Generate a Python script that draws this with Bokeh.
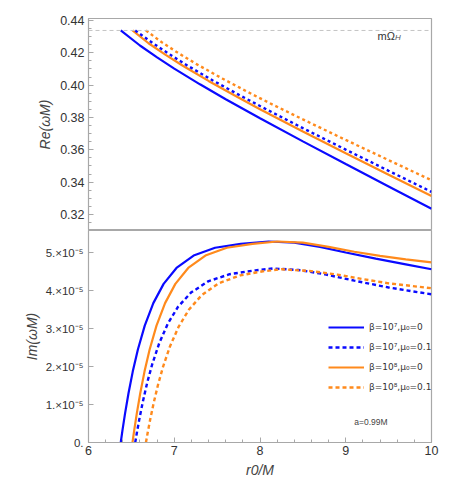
import numpy as np
from bokeh.plotting import figure
from bokeh.layouts import column
from bokeh.models import (Range1d, FixedTicker, Span, Label, Legend, LegendItem,
                          CustomJSTickFormatter, PrintfTickFormatter)
from bokeh.embed import file_html
from bokeh.resources import INLINE

# ---------------- data ----------------
m_omega_h = 0.4338  # m * Omega_H for a = 0.99M

# Re(omega M) vs r0/M
re_r_b7_0 = [6.376, 6.6, 6.8, 7.0, 7.3, 7.6, 8.0, 8.5, 9.0, 9.5, 10.0]
re_b7_0 = [0.4338, 0.4245, 0.4172, 0.4102, 0.4005, 0.3913, 0.3795, 0.3652, 0.3512, 0.3373, 0.3235]
re_r_b8_0 = [6.513, 6.7, 6.9, 7.1, 7.4, 7.7, 8.0, 8.5, 9.0, 9.5, 10.0]
re_b8_0 = [0.4338, 0.4259, 0.4187, 0.4120, 0.4026, 0.3937, 0.3851, 0.3713, 0.3579, 0.3446, 0.3314]
re_r_b7_01 = [6.545, 6.75, 6.95, 7.15, 7.45, 7.75, 8.0, 8.5, 9.0, 9.5, 10.0]
re_b7_01 = [0.4338, 0.4260, 0.4189, 0.4122, 0.4029, 0.3941, 0.3871, 0.3734, 0.3601, 0.3470, 0.3340]
re_r_b8_01 = [6.67, 6.86, 7.06, 7.26, 7.56, 7.86, 8.1, 8.5, 9.0, 9.5, 10.0]
re_b8_01 = [0.4338, 0.4263, 0.4194, 0.4130, 0.4041, 0.3957, 0.3892, 0.3788, 0.3661, 0.3536, 0.3412]

# Im(omega M) vs r0/M
im_r_b7_0 = [6.376, 6.396, 6.426, 6.466, 6.516, 6.576, 6.656, 6.756, 6.876, 7.026, 7.226,
             7.476, 7.776, 8.1, 8.4, 8.7, 9.0, 9.35, 9.7, 10.0]
im_b7_0 = [0.0, 0.319e-5, 0.761e-5, 1.291e-5, 1.866e-5, 2.449e-5, 3.075e-5, 3.668e-5, 4.175e-5,
           4.594e-5, 4.920e-5, 5.125e-5, 5.23e-5, 5.29e-5, 5.26e-5, 5.15e-5, 5.00e-5, 4.84e-5,
           4.69e-5, 4.56e-5]
im_r_b8_0 = [6.513, 6.533, 6.563, 6.603, 6.653, 6.713, 6.793, 6.893, 7.013, 7.163, 7.363,
             7.613, 7.913, 8.2, 8.5, 8.8, 9.1, 9.4, 9.7, 10.0]
im_b8_0 = [0.0, 0.319e-5, 0.761e-5, 1.291e-5, 1.866e-5, 2.449e-5, 3.075e-5, 3.668e-5, 4.175e-5,
           4.594e-5, 4.920e-5, 5.125e-5, 5.23e-5, 5.29e-5, 5.26e-5, 5.15e-5, 5.02e-5, 4.91e-5,
           4.82e-5, 4.74e-5]
im_r_b7_01 = [6.545, 6.565, 6.595, 6.635, 6.685, 6.745, 6.825, 6.925, 7.045, 7.195, 7.395,
              7.645, 7.945, 8.15, 8.45, 8.75, 9.1, 9.5, 10.0]
im_b7_01 = [0.0, 0.268e-5, 0.641e-5, 1.088e-5, 1.578e-5, 2.075e-5, 2.614e-5, 3.129e-5, 3.574e-5,
            3.945e-5, 4.241e-5, 4.430e-5, 4.531e-5, 4.58e-5, 4.54e-5, 4.43e-5, 4.26e-5, 4.08e-5,
            3.90e-5]
im_r_b8_01 = [6.67, 6.69, 6.72, 6.76, 6.81, 6.87, 6.95, 7.05, 7.17, 7.32, 7.52, 7.77, 8.02,
              8.25, 8.6, 8.9, 9.2, 9.5, 10.0]
im_b8_01 = [0.0, 0.255e-5, 0.611e-5, 1.041e-5, 1.513e-5, 1.999e-5, 2.529e-5, 3.042e-5, 3.494e-5,
            3.878e-5, 4.192e-5, 4.400e-5, 4.502e-5, 4.56e-5, 4.51e-5, 4.42e-5, 4.30e-5, 4.19e-5,
            4.06e-5]

x_ticks = [6, 7, 8, 9, 10]
x_minor = [6.2, 6.4, 6.6, 6.8, 7.2, 7.4, 7.6, 7.8, 8.2, 8.4, 8.6, 8.8, 9.2, 9.4, 9.6, 9.8]
re_ticks = [0.32, 0.34, 0.36, 0.38, 0.40, 0.42, 0.44]
re_minor = [0.315, 0.325, 0.33, 0.335, 0.345, 0.35, 0.355, 0.365, 0.37, 0.375,
            0.385, 0.39, 0.395, 0.405, 0.41, 0.415, 0.425, 0.43, 0.435]
im_ticks = [0.0, 1e-5, 2e-5, 3e-5, 4e-5, 5e-5]

labels = ["β=10⁷,μ₀=0", "β=10⁷,μ₀=0.1", "β=10⁸,μ₀=0", "β=10⁸,μ₀=0.1"]

BLUE = "#0a0aff"
ORANGE = "#ff8a1c"
FRAME = "#a8a8a8"
FONT = "Liberation Sans"


def style_axis(ax, ticks, minor):
    ax.ticker = FixedTicker(ticks=ticks, minor_ticks=minor)
    ax.major_tick_in = 5
    ax.major_tick_out = 0
    ax.minor_tick_in = 3
    ax.minor_tick_out = 0
    ax.axis_line_color = FRAME
    ax.major_tick_line_color = FRAME
    ax.minor_tick_line_color = FRAME
    ax.major_label_text_font = FONT
    ax.major_label_text_font_size = "12.5px"
    ax.major_label_text_color = "#333333"
    ax.axis_label_text_font = FONT
    ax.axis_label_text_font_size = "14px"
    ax.axis_label_text_font_style = "italic"
    ax.axis_label_text_color = "#444444"


# ---------------- top panel ----------------
p1 = figure(width=441, height=230, x_range=Range1d(6, 10), y_range=Range1d(0.3101, 0.4412),
            output_backend="svg", toolbar_location=None,
            min_border_left=88, min_border_right=10, min_border_top=18, min_border_bottom=0)
p1.xaxis.visible = False
p1.grid.visible = False
p1.outline_line_color = FRAME
p1.outline_line_width = 1.2
style_axis(p1.yaxis[0], re_ticks, re_minor)
p1.yaxis.formatter = PrintfTickFormatter(format="%.2f")
p1.yaxis.axis_label = "Re(ωM)"
p1.yaxis.major_label_standoff = 4
p1.yaxis.axis_label_standoff = 4

p1.add_layout(Span(location=m_omega_h, dimension="width", line_color="#c4c4c4",
                   line_dash="4 3", line_width=1))
p1.line(re_r_b7_0, re_b7_0, line_color=BLUE, line_width=2.2)
p1.line(re_r_b8_0, re_b8_0, line_color=ORANGE, line_width=2.2)
p1.line(re_r_b7_01, re_b7_01, line_color=BLUE, line_width=2.4, line_dash="3 3")
p1.line(re_r_b8_01, re_b8_01, line_color=ORANGE, line_width=2.4, line_dash="3 3")
p1.add_layout(Label(x=9.37, y=0.4301, text="mΩ", text_font=FONT, text_font_size="11px",
                    text_color="#333333", text_baseline="middle"))
p1.add_layout(Label(x=9.575, y=0.4294, text="H", text_font=FONT, text_font_size="8px",
                    text_font_style="italic", text_color="#555555", text_baseline="middle"))

# ---------------- bottom panel ----------------
p2 = figure(width=441, height=256, x_range=p1.x_range, y_range=Range1d(0, 5.58e-5),
            output_backend="svg", toolbar_location=None,
            min_border_left=88, min_border_right=10, min_border_top=0, min_border_bottom=44)
p2.grid.visible = False
p2.outline_line_color = FRAME
p2.outline_line_width = 1.2
style_axis(p2.xaxis[0], x_ticks, x_minor)
style_axis(p2.yaxis[0], im_ticks, [])
p2.xaxis.axis_label = "r0/M"
p2.xaxis.major_label_standoff = 3
p2.xaxis.axis_label_standoff = 4
p2.yaxis.axis_label = "Im(ωM)"
p2.yaxis.major_label_standoff = 5
p2.yaxis.axis_label_standoff = 3
p2.yaxis.major_label_text_font_size = "11.5px"
p2.yaxis.formatter = CustomJSTickFormatter(code="""
    if (Math.abs(tick) < 1e-12) { return '0.'; }
    const k = Math.round(tick * 1e5);
    return k + '.×10⁻⁵';
""")

r1 = p2.line(im_r_b7_0, im_b7_0, line_color=BLUE, line_width=2.2)
r2 = p2.line(im_r_b7_01, im_b7_01, line_color=BLUE, line_width=2.4, line_dash="4 3")
r3 = p2.line(im_r_b8_0, im_b8_0, line_color=ORANGE, line_width=2.2)
r4 = p2.line(im_r_b8_01, im_b8_01, line_color=ORANGE, line_width=2.4, line_dash="4 3")

legend = Legend(items=[LegendItem(label=labels[0], renderers=[r1]),
                       LegendItem(label=labels[1], renderers=[r2]),
                       LegendItem(label=labels[2], renderers=[r3]),
                       LegendItem(label=labels[3], renderers=[r4])],
                location=(240, 45), padding=0, margin=0, spacing=0,
                glyph_width=36, glyph_height=20, label_height=20, label_standoff=5,
                label_text_font="DejaVu Sans", label_text_font_size="9px",
                label_text_color="#333333",
                background_fill_alpha=0, border_line_alpha=0)
p2.add_layout(legend)

p2.add_layout(Label(x=9.1, y=0.53e-5, text="a=0.99M", text_font=FONT, text_font_size="8.5px",
                    text_color="#444444", text_baseline="middle"))

layout = column(p1, p2, spacing=0)
open("out.html", "w").write(file_html(layout, INLINE))
